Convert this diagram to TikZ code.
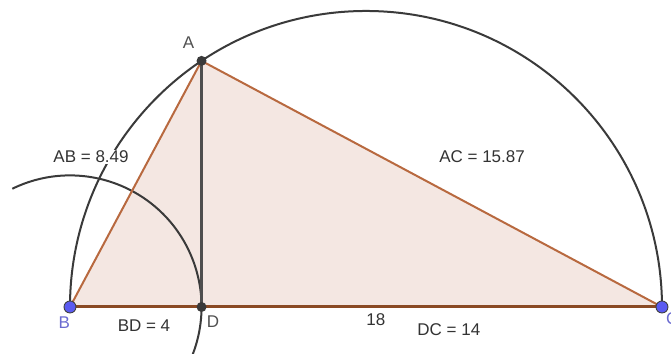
\documentclass[tikz,border=0pt]{standalone}
\usepackage{fontspec}
\setmainfont{Liberation Sans}
\usepackage{tikz}
\usetikzlibrary{positioning}
\definecolor{sidebrown}{HTML}{B8693F}
\definecolor{basebrown}{HTML}{8A4A24}
\definecolor{trifill}{HTML}{F4E7E2}
\definecolor{arcgray}{HTML}{3A3A3A}
\definecolor{ptblue}{HTML}{5A5AF0}
\definecolor{lblblue}{HTML}{6A6AD0}
\definecolor{lblgray}{HTML}{505050}

\begin{document}
\begin{tikzpicture}[x=32.89pt, y=32.89pt, font=\fontsize{17}{20}\selectfont]
  \tikzstyle{arc}=[draw=arcgray,line width=2pt]
  \tikzstyle{side}=[draw=sidebrown,line width=2pt]
  \tikzstyle{base}=[draw=basebrown,line width=3pt]
  \tikzstyle{alt}=[draw=arcgray!90,line width=2.4pt]
  \tikzstyle{meas}=[fill=white,inner sep=1pt,text=black!80]
  \tikzstyle{dotgray}=[circle,fill=arcgray,inner sep=0pt,minimum size=10pt]
  \tikzstyle{dotblue}=[circle,fill=ptblue,draw=black!75,line width=0.9pt,inner sep=0pt,minimum size=12pt]
  \useasboundingbox (-2.128,-1.429) rectangle (18.274,9.334);
  \clip (-2.128,-1.429) rectangle (18.274,9.334);
  \coordinate (B) at (0,0);
  \coordinate (C) at (18,0);
  \coordinate (D) at (4,0);
  \coordinate (A) at (4,7.483);
  % triangle and circles
  \fill[trifill] (A) -- (B) -- (C) -- cycle;
  \draw[arc] (B) arc[start angle=180,end angle=0,radius=9];
  \draw[arc] (B) ++(116:4) arc[start angle=116,end angle=-25,radius=4];
  \draw[alt] (A) -- (D);
  \draw[side] (A) -- (B);
  \draw[side] (A) -- (C);
  \draw[base] (B) -- (C);
  % measures
  \node[meas] (lab) at (0.64,4.56) {AB = 8.49};
  \node[meas] (lac) at (12.53,4.56) {AC = 15.87};
  \node[meas] (lbc) at (9.30,-0.40) {18};
  \node[meas] (ldc) at (11.52,-0.70) {DC = 14};
  \node[meas] (lbd) at (2.25,-0.58) {BD = 4};
  % points
  \node[dotgray] (pA) at (A) {};
  \node[dotgray] (pD) at (D) {};
  \node[dotblue] (pB) at (B) {};
  \node[dotblue] (pC) at (C) {};
  \node[text=lblgray,above left=5pt and 0pt of pA] {A};
  \node[text=lblblue,below left=2pt and -8pt of pB] {B};
  \node[text=lblgray,below right=2pt and -2pt of pD] {D};
  \node[text=lblblue,below right=-2pt and -4pt of pC] {C};
\end{tikzpicture}
\end{document}
